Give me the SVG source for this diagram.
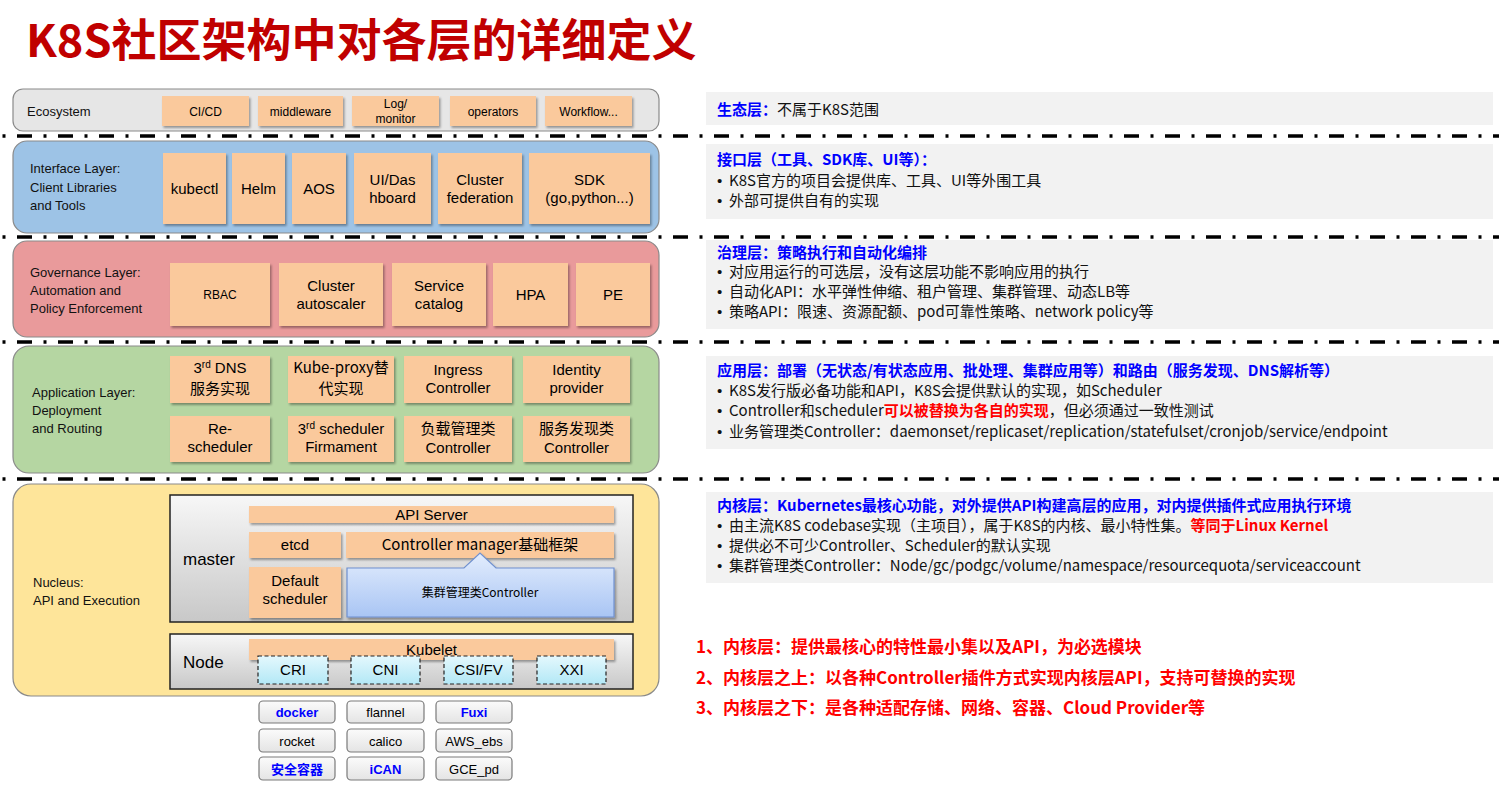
<svg xmlns="http://www.w3.org/2000/svg" width="1499" height="785" viewBox="0 0 1499 785">
<defs>
<filter id="sh" x="-10%" y="-10%" width="130%" height="140%"><feDropShadow dx="1.5" dy="2" stdDeviation="1.2" flood-color="#000" flood-opacity="0.35"/></filter>
<linearGradient id="gGray" x1="0" y1="0" x2="0" y2="1"><stop offset="0" stop-color="#f7f7f7"/><stop offset="1" stop-color="#c8c8c8"/></linearGradient>
<linearGradient id="gBlue" x1="0" y1="0" x2="0" y2="1"><stop offset="0" stop-color="#e3edfd"/><stop offset="1" stop-color="#a9c5f4"/></linearGradient>
<linearGradient id="gCyan" x1="0" y1="0" x2="0" y2="1"><stop offset="0" stop-color="#e4f8fd"/><stop offset="1" stop-color="#b3e8f6"/></linearGradient>
<linearGradient id="gSmall" x1="0" y1="0" x2="0" y2="1"><stop offset="0" stop-color="#fbfbfb"/><stop offset="1" stop-color="#e4e4e4"/></linearGradient>
</defs>
<style>
text{font-family:'Noto Sans CJK SC','Noto Sans',sans-serif;fill:#000}
.lat{font-family:'Liberation Sans',Arial,sans-serif}
.title{font-size:45px;font-weight:bold;fill:#c00000}
.lbl{font-size:13px;fill:#111;font-family:'Liberation Sans',Arial,sans-serif}
.it{fill:#fac99c;filter:url(#sh)}
.t15{font-size:15px;text-anchor:middle}
.t12{font-size:12px;text-anchor:middle}
.t13{font-size:13px;text-anchor:middle}
.panel{fill:#f2f2f2}
.rt{font-size:15px;fill:#111}
.bul{font-size:15px;fill:#111;font-family:'Liberation Sans',sans-serif}
.bh{font-weight:bold;fill:#0000ff}
.red{font-weight:bold;fill:#ff0000}
.bot{font-size:17px;font-weight:bold;fill:#ff0000}
.sep{stroke:#000;stroke-width:3.5;stroke-dasharray:3 11.5 15 11.5;fill:none}
.layer{stroke:#8a8a8a;stroke-width:1.2}
.grp{fill:url(#gGray);stroke:#222;stroke-width:1.5}
.dash{fill:url(#gCyan);stroke:#222;stroke-width:1.2;stroke-dasharray:4 2.5}
.sm{fill:url(#gSmall);stroke:#7a7a7a;stroke-width:1.2}
.bb{font-weight:bold;fill:#0000ff}
.sup{font-size:10px}
</style>
<rect width="1499" height="785" fill="#fff"/>
<text class="title" x="26" y="57">K8S社区架构中对各层的详细定义</text>

<g id="separators">
<line class="sep" x1="2.5" y1="136" x2="1499" y2="136"/>
<line class="sep" x1="2.5" y1="237" x2="1499" y2="237"/>
<line class="sep" x1="2.5" y1="342" x2="1499" y2="342"/>
<line class="sep" x1="2.5" y1="479" x2="1499" y2="479"/>
</g>

<g id="ecosystem">
<rect class="layer" x="13" y="89" width="646" height="42" rx="10" fill="#e6e6e6"/>
<text class="lbl" x="27" y="115.5">Ecosystem</text>
<rect class="it" x="162" y="96" width="87" height="30"/><text class="t12 lat" x="205.5" y="115.5">CI/CD</text>
<rect class="it" x="258" y="96" width="85" height="30"/><text class="t12 lat" x="300.5" y="115.5">middleware</text>
<rect class="it" x="352" y="96" width="87" height="30"/><text class="t12 lat"><tspan x="395.5" y="108">Log/</tspan><tspan x="395.5" y="123">monitor</tspan></text>
<rect class="it" x="450" y="96" width="86" height="30"/><text class="t12 lat" x="493" y="115.5">operators</text>
<rect class="it" x="545" y="96" width="87" height="30"/><text class="t12 lat" x="588.5" y="115.5">Workflow...</text>
</g>

<g id="interface">
<rect class="layer" x="13" y="141" width="646" height="92" rx="14" fill="#9dc3e6"/>
<text class="lbl"><tspan x="30" y="172.5">Interface Layer:</tspan><tspan x="30" y="191.5">Client Libraries</tspan><tspan x="30" y="209.5">and Tools</tspan></text>
<rect class="it" x="163" y="153" width="63" height="71"/><text class="t15 lat" x="194.5" y="194">kubectl</text>
<rect class="it" x="232" y="153" width="53" height="71"/><text class="t15 lat" x="258.5" y="194">Helm</text>
<rect class="it" x="292" y="153" width="54" height="71"/><text class="t15 lat" x="319" y="194">AOS</text>
<rect class="it" x="354" y="153" width="77" height="71"/><text class="t15 lat"><tspan x="392.5" y="185">UI/Das</tspan><tspan x="392.5" y="203">hboard</tspan></text>
<rect class="it" x="438" y="153" width="84" height="71"/><text class="t15 lat"><tspan x="480" y="185">Cluster</tspan><tspan x="480" y="203">federation</tspan></text>
<rect class="it" x="529" y="153" width="121" height="71"/><text class="t15 lat"><tspan x="589.5" y="185">SDK</tspan><tspan x="589.5" y="203">(go,python...)</tspan></text>
</g>

<g id="governance">
<rect class="layer" x="13" y="241" width="646" height="96" rx="14" fill="#e99a9b"/>
<text class="lbl"><tspan x="30" y="276.5">Governance Layer:</tspan><tspan x="30" y="294.5">Automation and</tspan><tspan x="30" y="312.5">Policy Enforcement</tspan></text>
<rect class="it" x="170" y="263" width="100" height="63"/><text class="t12 lat" x="220" y="299">RBAC</text>
<rect class="it" x="279" y="263" width="104" height="63"/><text class="t15 lat"><tspan x="331" y="291">Cluster</tspan><tspan x="331" y="309">autoscaler</tspan></text>
<rect class="it" x="392" y="263" width="94" height="63"/><text class="t15 lat"><tspan x="439" y="291">Service</tspan><tspan x="439" y="309">catalog</tspan></text>
<rect class="it" x="493" y="263" width="75" height="63"/><text class="t15 lat" x="530.5" y="300">HPA</text>
<rect class="it" x="576" y="263" width="74" height="63"/><text class="t15 lat" x="613" y="300">PE</text>
</g>

<g id="application">
<rect class="layer" x="13" y="346" width="646" height="127" rx="16" fill="#b5d6a2"/>
<text class="lbl"><tspan x="32" y="396.5">Application Layer:</tspan><tspan x="32" y="414.5">Deployment</tspan><tspan x="32" y="432.5">and Routing</tspan></text>
<rect class="it" x="170" y="356" width="100" height="47"/><text class="t15 lat" x="220" y="373">3<tspan class="sup" dy="-5">rd</tspan><tspan dy="5"> DNS</tspan></text><text class="t15" x="220" y="394">服务实现</text>
<rect class="it" x="288" y="356" width="106" height="47"/><text class="t15"><tspan x="341" y="373">Kube-proxy替</tspan><tspan x="341" y="394">代实现</tspan></text>
<rect class="it" x="404" y="356" width="108" height="47"/><text class="t15 lat"><tspan x="458" y="375">Ingress</tspan><tspan x="458" y="393">Controller</tspan></text>
<rect class="it" x="523" y="356" width="107" height="47"/><text class="t15 lat"><tspan x="576.5" y="375">Identity</tspan><tspan x="576.5" y="393">provider</tspan></text>
<rect class="it" x="170" y="416" width="100" height="46"/><text class="t15 lat"><tspan x="220" y="434">Re-</tspan><tspan x="220" y="452">scheduler</tspan></text>
<rect class="it" x="288" y="416" width="106" height="46"/><text class="t15 lat"><tspan x="341" y="434">3<tspan class="sup" dy="-5">rd</tspan><tspan dy="5"> scheduler</tspan></tspan><tspan x="341" y="452">Firmament</tspan></text>
<rect class="it" x="404" y="416" width="108" height="46"/><text class="t15" x="458" y="434">负载管理类</text><text class="t15 lat" x="458" y="452.5">Controller</text>
<rect class="it" x="523" y="416" width="107" height="46"/><text class="t15" x="576.5" y="434">服务发现类</text><text class="t15 lat" x="576.5" y="452.5">Controller</text>
</g>

<g id="nucleus">
<rect class="layer" x="13" y="484" width="646" height="212" rx="18" fill="#fee59a"/>
<text class="lbl"><tspan x="33" y="586.5">Nucleus:</tspan><tspan x="33" y="604.5">API and Execution</tspan></text>
</g>

<g id="master">
<rect class="grp" x="170" y="495" width="463" height="127"/>
<text class="lat" x="183" y="565" font-size="17">master</text>
<rect class="it" x="249" y="506" width="365" height="17"/><text class="t15 lat" x="431.5" y="519.5" font-size="14">API Server</text>
<rect class="it" x="249" y="532" width="92" height="26"/><text class="t15 lat" x="295" y="550">etcd</text>
<rect class="it" x="346" y="532" width="268" height="26"/><text class="t15" x="480" y="550">Controller manager基础框架</text>
<rect class="it" x="249" y="567" width="92" height="51"/><text class="t15 lat"><tspan x="295" y="586">Default</tspan><tspan x="295" y="604">scheduler</tspan></text>
</g>

<g id="cluster-controller">
<path d="M347,568 H464 L480,553 L496,568 H614 V617 H347 Z" fill="url(#gBlue)" stroke="#6f90cf" stroke-width="1.2" filter="url(#sh)"/>
<text class="t12" x="480" y="597">集群管理类Controller</text>
</g>

<g id="node">
<rect class="grp" x="170" y="634" width="463" height="55"/>
<text class="lat" x="183" y="668" font-size="17">Node</text>
<rect class="it" x="249" y="639" width="365" height="21"/><text class="t15 lat" x="431.5" y="655">Kubelet</text>
<rect class="dash" x="258" y="656" width="70" height="28"/><text class="t15 lat" x="293" y="675">CRI</text>
<rect class="dash" x="351" y="656" width="69" height="28"/><text class="t15 lat" x="385.5" y="675">CNI</text>
<rect class="dash" x="444" y="656" width="69" height="28"/><text class="t15 lat" x="478.5" y="675">CSI/FV</text>
<rect class="dash" x="537" y="656" width="69" height="28"/><text class="t15 lat" x="571.5" y="675">XXI</text>
</g>

<g id="plugins">
<rect class="sm" x="259" y="701" width="76" height="22" rx="4"/><text class="t13 lat bb" x="297" y="717">docker</text>
<rect class="sm" x="347" y="701" width="77" height="22" rx="4"/><text class="t13 lat" x="385.5" y="717">flannel</text>
<rect class="sm" x="436" y="701" width="76" height="22" rx="4"/><text class="t13 lat bb" x="474" y="717">Fuxi</text>
<rect class="sm" x="259" y="729" width="76" height="23" rx="4"/><text class="t13 lat" x="297" y="745.5">rocket</text>
<rect class="sm" x="347" y="729" width="77" height="23" rx="4"/><text class="t13 lat" x="385.5" y="745.5">calico</text>
<rect class="sm" x="436" y="729" width="76" height="23" rx="4"/><text class="t13 lat" x="474" y="745.5">AWS_ebs</text>
<rect class="sm" x="259" y="757" width="76" height="23" rx="4"/><text class="t13 bb" x="297" y="773.5">安全容器</text>
<rect class="sm" x="347" y="757" width="77" height="23" rx="4"/><text class="t13 lat bb" x="385.5" y="773.5">iCAN</text>
<rect class="sm" x="436" y="757" width="76" height="23" rx="4"/><text class="t13 lat" x="474" y="773.5">GCE_pd</text>
</g>

<g id="desc-ecosystem">
<rect class="panel" x="706" y="92" width="787" height="33"/>
<text class="rt" x="717" y="115"><tspan class="bh">生态层：</tspan>不属于K8S范围</text>
</g>
<g id="desc-interface">
<rect class="panel" x="706" y="144" width="787" height="75"/>
<text class="rt bh" x="717" y="165">接口层（工具、SDK库、UI等）：</text>
<text class="bul" x="717" y="186">•</text><text class="rt" x="729" y="186">K8S官方的项目会提供库、工具、UI等外围工具</text>
<text class="bul" x="717" y="206">•</text><text class="rt" x="729" y="206">外部可提供自有的实现</text>
</g>
<g id="desc-governance">
<rect class="panel" x="706" y="240" width="787" height="89"/>
<text class="rt bh" x="717" y="258">治理层：策略执行和自动化编排</text>
<text class="bul" x="717" y="277">•</text><text class="rt" x="729" y="277">对应用运行的可选层，没有这层功能不影响应用的执行</text>
<text class="bul" x="717" y="297">•</text><text class="rt" x="729" y="297">自动化API：水平弹性伸缩、租户管理、集群管理、动态LB等</text>
<text class="bul" x="717" y="317">•</text><text class="rt" x="729" y="317">策略API：限速、资源配额、pod可靠性策略、network policy等</text>
</g>
<g id="desc-application">
<rect class="panel" x="706" y="356" width="787" height="93"/>
<text class="rt bh" x="717" y="376">应用层：部署（无状态/有状态应用、批处理、集群应用等）和路由（服务发现、DNS解析等）</text>
<text class="bul" x="717" y="396">•</text><text class="rt" x="729" y="396">K8S发行版必备功能和API，K8S会提供默认的实现，如Scheduler</text>
<text class="bul" x="717" y="416">•</text><text class="rt" x="729" y="416">Controller和scheduler<tspan class="red">可以被替换为各自的实现</tspan>，但必须通过一致性测试</text>
<text class="bul" x="717" y="437">•</text><text class="rt" x="729" y="437">业务管理类Controller：daemonset/replicaset/replication/statefulset/cronjob/service/endpoint</text>
</g>
<g id="desc-nucleus">
<rect class="panel" x="706" y="492" width="787" height="91"/>
<text class="rt bh" x="717" y="511">内核层：Kubernetes最核心功能，对外提供API构建高层的应用，对内提供插件式应用执行环境</text>
<text class="bul" x="717" y="531">•</text><text class="rt" x="729" y="531">由主流K8S codebase实现（主项目），属于K8S的内核、最小特性集。<tspan class="red">等同于Linux Kernel</tspan></text>
<text class="bul" x="717" y="551">•</text><text class="rt" x="729" y="551">提供必不可少Controller、Scheduler的默认实现</text>
<text class="bul" x="717" y="571">•</text><text class="rt" x="729" y="571">集群管理类Controller：Node/gc/podgc/volume/namespace/resourcequota/serviceaccount</text>
</g>

<g id="summary">
<text class="bot" x="696" y="653">1、内核层：提供最核心的特性最小集以及API，为必选模块</text>
<text class="bot" x="696" y="684">2、内核层之上：以各种Controller插件方式实现内核层API，支持可替换的实现</text>
<text class="bot" x="696" y="714">3、内核层之下：是各种适配存储、网络、容器、Cloud Provider等</text>
</g>
</svg>
